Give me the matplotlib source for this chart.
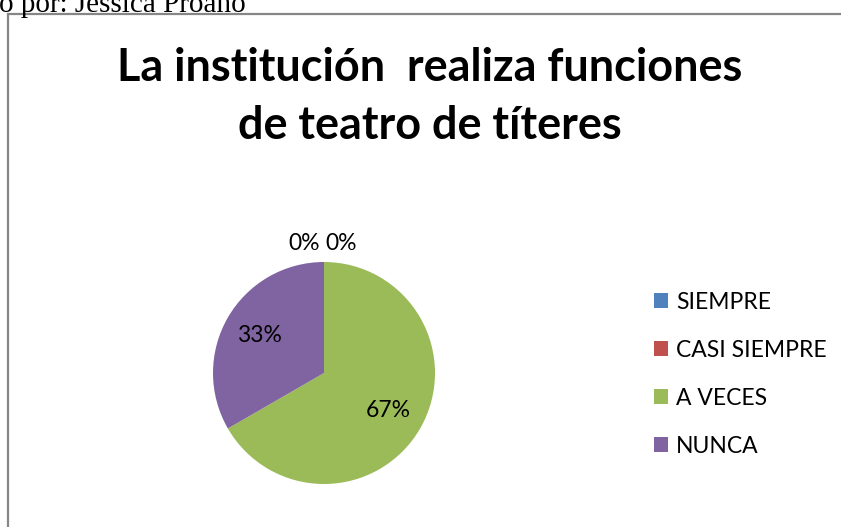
import matplotlib
matplotlib.use('Agg')
import matplotlib.pyplot as plt
from matplotlib.patches import Rectangle, Patch

categories = ["SIEMPRE", "CASI SIEMPRE", "A VECES", "NUNCA"]
values = [0, 0, 2, 1]
colors = ["#4F81BD", "#C0504D", "#9BBB59", "#8064A2"]
title = "La institución  realiza funciones\nde teatro de títeres"
header = "o por: Jessica Proaño"

W, H = 841, 527
fig = plt.figure(figsize=(W / 100, H / 100), dpi=100)

# outer chart frame (runs off the right and bottom edge)
fig.patches.append(Rectangle((8 / W, -0.05), 1.0, 1 - 14 / H + 0.05,
                             transform=fig.transFigure, fill=False,
                             edgecolor="#868686", lw=1.6))

fig.text(-0.001, 1 - 12 / H, header, family="Liberation Serif", fontsize=21,
         va="baseline", ha="left")

fig.text(430 / W, 1 - 97 / H, title, family="Lato", fontweight="bold",
         fontsize=32.4, ha="center", va="center", linespacing=1.48)

cx, cy, r = 324, 373, 111
ax = fig.add_axes([(cx - r) / W, (H - cy - r) / H, 2 * r / W, 2 * r / H])
wedges, texts, autotexts = ax.pie(values, colors=colors, startangle=90,
                                  counterclock=False, autopct="%1.0f%%",
                                  pctdistance=0.67,
                                  textprops=dict(family="Lato", fontsize=16.5))
ax.set_xlim(-1, 1)
ax.set_ylim(-1, 1)
ax.set_aspect("equal")

# zero slices: labels sit above the top of the pie
zero_idx = [i for i, v in enumerate(values) if v == 0]
for k, i in enumerate(zero_idx):
    autotexts[i].set_position((-0.18 + 0.33 * k, 1.17))

handles = [Patch(facecolor=c, edgecolor="none") for c in colors]
fig.legend(handles, categories, loc="upper left",
           bbox_to_anchor=(633 / W, 1 - 271 / H), frameon=False,
           prop=dict(family="Lato", size=16.5), handlelength=0.63,
           handleheight=0.63, handletextpad=0.35, labelspacing=1.18)

fig.savefig("out.png", dpi=100)
